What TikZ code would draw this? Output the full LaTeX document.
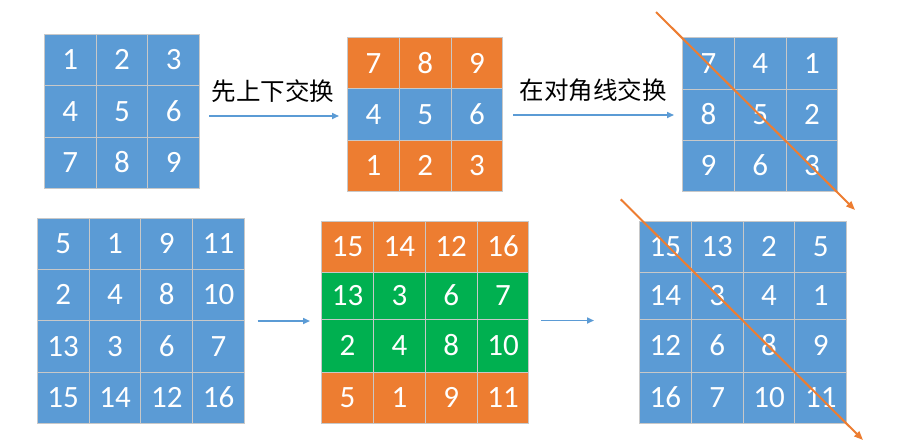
\documentclass[tikz,border=0pt]{standalone}
\usepackage{fontspec}
\usetikzlibrary{arrows.meta}
\newfontfamily\digitfont{Carlito}
\newfontfamily\cjk{Noto Sans CJK SC}
\definecolor{cblue}{HTML}{5B9BD5}
\definecolor{corange}{HTML}{ED7D31}
\definecolor{cgreen}{HTML}{00B050}
\definecolor{cgrid}{HTML}{C8C8C8}
\tikzset{
  cell/.style={draw=cgrid, line width=1pt, inner sep=0pt, minimum width=51.8pt,
    text=white, font=\digitfont\fontsize{31}{31}\selectfont, text height=19.6pt, text depth=0pt},
  bluearrow/.style={draw=cblue, line width=1.6pt, -{Triangle[length=7pt,width=6pt]}},
  diagline/.style={draw=corange, line width=2pt, -{Triangle[length=9pt,width=7pt]}},
  steplabel/.style={font=\cjk\fontsize{24.5}{24.5}\selectfont, text=black, inner sep=0pt}
}
% #1 x0, #2 y top, #3 row height, #4 fill colour, #5 values, #6 name prefix
\newcommand\cellrow[6]{%
  \foreach \v [count=\c from 0] in {#5} {%
    \node[cell, fill=#4, minimum height=#3pt] (#6-\c) at ({#1+51.8*(\c+0.5)},{#2+#3/2}) {\v};
  }%
}
\begin{document}
\begin{tikzpicture}[x=1pt,y=-1pt]
\useasboundingbox (0,0) rectangle (923,445);
\fill[white] (0,0) rectangle (923,445);

% top-left grid
\cellrow{44.3}{34.3}{51.5}{cblue}{1,2,3}{ta1}
\cellrow{44.3}{85.8}{51.5}{cblue}{4,5,6}{ta2}
\cellrow{44.3}{137.3}{51.5}{cblue}{7,8,9}{ta3}

% top-middle grid
\cellrow{347.5}{37.5}{51.4}{corange}{7,8,9}{tb1}
\cellrow{347.5}{88.9}{51.4}{cblue}{4,5,6}{tb2}
\cellrow{347.5}{140.3}{51.4}{corange}{1,2,3}{tb3}

% top-right grid
\cellrow{682.5}{37.7}{51.3}{cblue}{7,4,1}{tc1}
\cellrow{682.5}{89.0}{51.3}{cblue}{8,5,2}{tc2}
\cellrow{682.5}{140.3}{51.3}{cblue}{9,6,3}{tc3}

% bottom-left grid
\cellrow{37.3}{218.3}{51.25}{cblue}{5,1,9,11}{ba1}
\cellrow{37.3}{269.55}{51.25}{cblue}{2,4,8,10}{ba2}
\cellrow{37.3}{320.8}{51.25}{cblue}{13,3,6,7}{ba3}
\cellrow{37.3}{372.05}{51.25}{cblue}{15,14,12,16}{ba4}

% bottom-middle grid
\cellrow{321.7}{221.0}{51.8}{corange}{15,14,12,16}{bb1}
\cellrow{321.7}{272.8}{46.6}{cgreen}{13,3,6,7}{bb2}
\cellrow{321.7}{319.4}{52.9}{cgreen}{2,4,8,10}{bb3}
\cellrow{321.7}{372.3}{51.0}{corange}{5,1,9,11}{bb4}

% bottom-right grid
\cellrow{639.5}{221.0}{51.8}{cblue}{15,13,2,5}{bc1}
\cellrow{639.5}{272.8}{46.6}{cblue}{14,3,4,1}{bc2}
\cellrow{639.5}{319.4}{52.9}{cblue}{12,6,8,9}{bc3}
\cellrow{639.5}{372.3}{51.0}{cblue}{16,7,10,11}{bc4}

% arrows and labels
\coordinate (a1s) at (209,116);
\coordinate (a1e) at (339,116);
\coordinate (a2s) at (513,115);
\coordinate (a2e) at (674,115);
\coordinate (a3s) at (257.5,321);
\coordinate (a3e) at (310,321);
\coordinate (a4s) at (541,320.5);
\coordinate (a4e) at (594,320.5);
\draw[bluearrow] (a1s) -- (a1e);
\draw[bluearrow] (a2s) -- (a2e);
\draw[bluearrow] (a3s) -- (a3e);
\draw[bluearrow] (a4s) -- (a4e);
\node[steplabel] (lab1) at (273,91) {先上下交换};
\node[steplabel] (lab2) at (593,90) {在对角线交换};

% diagonals
\coordinate (d1s) at (656,12);
\coordinate (d1e) at (855,210);
\coordinate (d2s) at (620.7,199.3);
\coordinate (d2e) at (863,440);
\draw[diagline] (d1s) -- (d1e);
\draw[diagline] (d2s) -- (d2e);
\end{tikzpicture}
\end{document}
